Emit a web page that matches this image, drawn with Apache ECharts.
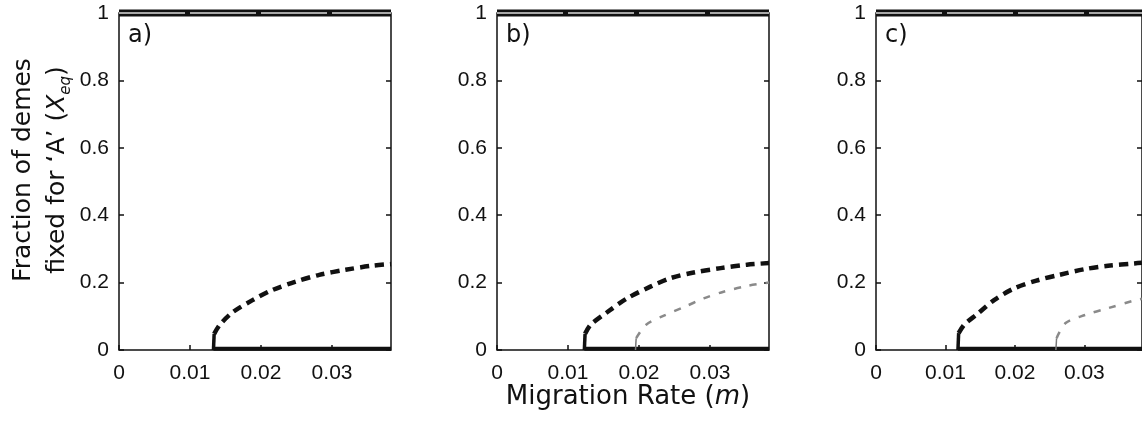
<!DOCTYPE html>
<html>
<head>
<meta charset="utf-8">
<script src="https://cdn.jsdelivr.net/npm/echarts@6/dist/echarts.min.js"></script>
<style>
  html, body { margin: 0; padding: 0; background: #fff; }
  #chart { width: 1142px; height: 423px; }
</style>
</head>
<body>
<div id="chart"></div>
<script>
// values
const panelLabels = ["a)", "b)", "c)"];
const xMax = 0.0383;

// bifurcation points (start of the solid x=0 branch)
const bifurcation = [0.0133, 0.0123, 0.0118];
const greyStart = [null, 0.0195, 0.0259];

// unstable branch, black dashed
const blackA = [[0.0134, 0.048], [0.0142, 0.075], [0.016, 0.112], [0.0188, 0.148], [0.0216, 0.178],
    [0.0249, 0.203], [0.0282, 0.223], [0.0319, 0.238], [0.0356, 0.25], [0.0383, 0.255]];
const blackB = [[0.0124, 0.048], [0.0132, 0.075], [0.0155, 0.112], [0.0183, 0.153], [0.0216, 0.188],
    [0.0244, 0.213], [0.0277, 0.23], [0.0315, 0.243], [0.0352, 0.253], [0.0383, 0.258]];
const blackC = [[0.0119, 0.05], [0.0127, 0.075], [0.0146, 0.107], [0.017, 0.148], [0.0198, 0.182],
    [0.0231, 0.206], [0.0264, 0.223], [0.0301, 0.24], [0.0334, 0.25], [0.0372, 0.257], [0.0383, 0.259]];

// second branch, grey dashed
const greyB = [[0.0196, 0.035], [0.021, 0.075], [0.0235, 0.102], [0.0263, 0.127], [0.0291, 0.153],
    [0.0319, 0.173], [0.0352, 0.19], [0.0383, 0.2]];
const greyC = [[0.026, 0.035], [0.0273, 0.08], [0.0301, 0.104], [0.0334, 0.124], [0.0372, 0.147],
    [0.0383, 0.152]];

const blackCurves = [blackA, blackB, blackC];
const greyCurves = [null, greyB, greyC];

const gridLefts = [119, 497, 876];
const tickFont = "Liberation Sans";
const titleFont = "DejaVu Sans";

function buildChart() {
    let chartDom = document.getElementById("chart");
    let myChart = echarts.init(chartDom);

    let grids = [];
    let xAxes = [];
    let yAxes = [];
    let series = [];
    let graphics = [];

    for (let i = 0; i < 3; i++) {
        grids.push({
            left: gridLefts[i],
            top: 13,
            width: 272,
            height: 337,
            show: true,
            borderColor: "#111",
            borderWidth: 1.5,
        });

        xAxes.push({
            gridIndex: i,
            type: "value",
            min: 0,
            max: xMax,
            interval: 0.01,
            axisLine: { show: false },
            axisTick: { inside: true, length: 5, lineStyle: { color: "#111", width: 1.5 } },
            splitLine: { show: false },
            axisLabel: {
                showMaxLabel: false,
                fontSize: 21,
                fontFamily: tickFont,
                color: "#111",
                margin: 13,
            },
        });

        yAxes.push({
            gridIndex: i,
            type: "value",
            position: "left",
            min: 0,
            max: 1,
            interval: 0.2,
            axisLine: { show: false },
            axisTick: { inside: true, length: 5, lineStyle: { color: "#111", width: 1.5 } },
            splitLine: { show: false },
            axisLabel: {
                fontSize: 21,
                fontFamily: tickFont,
                color: "#111",
                margin: 10,
            },
        });
        yAxes.push({
            gridIndex: i,
            type: "value",
            position: "right",
            min: 0,
            max: 1,
            interval: 0.2,
            axisLine: { show: false },
            axisTick: { inside: true, length: 5, lineStyle: { color: "#111", width: 1.5 } },
            axisLabel: { show: false },
            splitLine: { show: false },
        });

        let common = {
            type: "line",
            xAxisIndex: i,
            yAxisIndex: i * 2,
            symbol: "none",
            silent: true,
            clip: false,
        };

        // x = 1 stable branch (thick black with light dashed core)
        series.push({
            ...common,
            data: [[0, 1], [xMax, 1]],
            lineStyle: { color: "#111", width: 7 },
        });
        series.push({
            ...common,
            data: [[0, 1], [xMax, 1]],
            lineStyle: { color: "#a8a8a8", width: 2, type: [66, 5] },
        });

        // x = 0 stable branch after bifurcation
        series.push({
            ...common,
            data: [[bifurcation[i], 0.004], [xMax, 0.004]],
            lineStyle: { color: "#111", width: 4 },
        });
        // short solid stem at the bifurcation
        series.push({
            ...common,
            data: [[bifurcation[i], 0], blackCurves[i][0]],
            lineStyle: { color: "#111", width: 3.5 },
        });
        // black dashed unstable branch
        series.push({
            ...common,
            data: blackCurves[i],
            smooth: 0.3,
            lineStyle: { color: "#111", width: 4.5, type: [9, 6] },
        });

        if (greyCurves[i]) {
            series.push({
                ...common,
                data: [[greyStart[i], 0], greyCurves[i][0]],
                lineStyle: { color: "#777", width: 1.5 },
            });
            series.push({
                ...common,
                data: greyCurves[i],
                smooth: 0.3,
                lineStyle: { color: "#8a8a8a", width: 2.5, type: [7, 9] },
            });
        }

        graphics.push({
            type: "text",
            left: gridLefts[i] + 9,
            top: 24,
            style: {
                text: panelLabels[i],
                font: "24px " + titleFont,
                fill: "#111",
            },
        });
    }

    // y axis title
    graphics.push({
        type: "text",
        x: 40,
        y: 170,
        rotation: Math.PI / 2,
        style: {
            text: "{n|Fraction of demes}\n{n|fixed for \u2018A\u2019 (}{i|X}{s|eq}{n|)}",
            align: "center",
            verticalAlign: "middle",
            fill: "#111",
            rich: {
                n: { fontSize: 25, fontFamily: titleFont, lineHeight: 34, color: "#111" },
                i: { fontSize: 25, fontFamily: titleFont, fontStyle: "italic", lineHeight: 34, color: "#111" },
                s: { fontSize: 15, fontFamily: titleFont, fontStyle: "italic", lineHeight: 20,
                     verticalAlign: "bottom", color: "#111" },
            },
        },
    });

    // x axis title
    graphics.push({
        type: "text",
        x: 628,
        y: 397,
        style: {
            text: "{n|Migration Rate (}{i|m}{n|)}",
            align: "center",
            verticalAlign: "middle",
            fill: "#111",
            rich: {
                n: { fontSize: 26, fontFamily: titleFont, color: "#111" },
                i: { fontSize: 26, fontFamily: titleFont, fontStyle: "italic", color: "#111" },
            },
        },
    });

    let option = {
        animation: false,
        backgroundColor: "#fff",
        grid: grids,
        xAxis: xAxes,
        yAxis: yAxes,
        series,
        graphic: graphics,
    };

    option && myChart.setOption(option);
}

buildChart();
</script>
</body>
</html>
